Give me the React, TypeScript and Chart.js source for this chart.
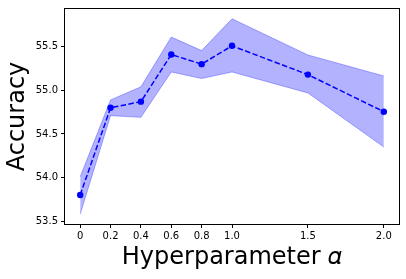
import React, { useEffect, useRef } from "react";
import { Chart, registerables } from "chart.js";

Chart.register(...registerables);

const alphas = [0, 0.2, 0.4, 0.6, 0.8, 1.0, 1.5, 2.0];
const accuracy = [53.8, 54.8, 54.87, 55.41, 55.3, 55.51, 55.18, 54.755];
const upperBand = [54.01, 54.89, 55.04, 55.61, 55.455, 55.82, 55.405, 55.165];
const lowerBand = [53.58, 54.71, 54.69, 55.21, 55.135, 55.21, 54.97, 54.35];
const xTicks = [0, 0.2, 0.4, 0.6, 0.8, 1.0, 1.5, 2.0];
const xTickLabels = ["0", "0.2", "0.4", "0.6", "0.8", "1.0", "1.5", "2.0"];
const yTicks = [53.5, 54.0, 54.5, 55.0, 55.5];
const yTickLabels = ["53.5", "54.0", "54.5", "55.0", "55.5"];

const FONT = "'DejaVu Sans', sans-serif";

const framePlugin = {
  id: "frame",
  afterDraw(chart: any) {
    const { ctx, chartArea } = chart;
    ctx.save();
    ctx.strokeStyle = "#000";
    ctx.lineWidth = 1;
    ctx.strokeRect(
      Math.round(chartArea.left) - 0.5,
      Math.round(chartArea.top) - 0.5,
      Math.round(chartArea.right - chartArea.left) + 1,
      Math.round(chartArea.bottom - chartArea.top) + 1
    );
    ctx.restore();
  },
};

export default function App() {
  const ref = useRef<HTMLCanvasElement | null>(null);
  useEffect(() => {
    if (!ref.current) return;
    const yMinD = Math.min(...lowerBand);
    const yMaxD = Math.max(...upperBand);
    const yPad = (yMaxD - yMinD) * 0.05;
    const xPad = (alphas[alphas.length - 1] - alphas[0]) * 0.05;
    const toPts = (arr: number[]) => arr.map((y, i) => ({ x: alphas[i], y }));
    const chart = new Chart(ref.current, {
      type: "line",
      data: {
        datasets: [
          {
            data: toPts(accuracy),
            borderColor: "#0000ff",
            backgroundColor: "#0000ff",
            borderWidth: 1.5,
            borderDash: [5.5, 2.4],
            pointRadius: 3.2,
            pointBorderWidth: 0,
            pointBackgroundColor: "#0000ff",
            fill: false,
            tension: 0,
            order: 0,
          },
          {
            data: toPts(upperBand),
            borderColor: "rgba(0,0,255,0.3)",
            backgroundColor: "rgba(0,0,255,0.3)",
            borderWidth: 1,
            pointRadius: 0,
            fill: "+1",
            tension: 0,
            order: 1,
          },
          {
            data: toPts(lowerBand),
            borderColor: "rgba(0,0,255,0.3)",
            backgroundColor: "rgba(0,0,255,0.3)",
            borderWidth: 1,
            pointRadius: 0,
            fill: false,
            tension: 0,
            order: 2,
          },
        ],
      },
      options: {
        animation: false,
        responsive: false,
        devicePixelRatio: 1,
        layout: { padding: { top: 6, right: 7, left: 0, bottom: 0 } },
        plugins: {
          legend: { display: false },
          tooltip: { enabled: false },
        },
        scales: {
          x: {
            type: "linear",
            min: alphas[0] - xPad,
            max: alphas[alphas.length - 1] + xPad,
            afterBuildTicks: (s: any) => {
              s.ticks = xTicks.map((v) => ({ value: v }));
            },
            afterFit: (s: any) => {
              s.height = 55;
            },
            ticks: {
              autoSkip: false,
              maxRotation: 0,
              padding: 2,
              color: "#000",
              font: { family: FONT, size: 10 },
              callback: (_v: any, i: number) => xTickLabels[i],
            },
            grid: {
              drawOnChartArea: false,
              drawTicks: true,
              tickLength: 4,
              color: "#000",
            },
            border: { display: false },
            title: {
              display: true,
              text: "Hyperparameter \u{1D6FC}",
              color: "#000",
              font: { family: FONT, size: 24 },
              padding: { top: 0, bottom: 7 },
            },
          },
          y: {
            type: "linear",
            min: yMinD - yPad,
            max: yMaxD + yPad,
            afterBuildTicks: (s: any) => {
              s.ticks = yTicks.map((v) => ({ value: v }));
            },
            afterFit: (s: any) => {
              s.width = 65;
            },
            ticks: {
              autoSkip: false,
              padding: 3,
              color: "#000",
              font: { family: FONT, size: 10 },
              callback: (_v: any, i: number) => yTickLabels[i],
            },
            grid: {
              drawOnChartArea: false,
              drawTicks: true,
              tickLength: 4,
              color: "#000",
            },
            border: { display: false },
            title: {
              display: true,
              text: "Accuracy",
              color: "#000",
              font: { family: FONT, size: 24 },
              padding: { top: 3, bottom: 0 },
            },
          },
        },
      },
      plugins: [framePlugin],
    });
    return () => chart.destroy();
  }, []);
  return (
    <div style={{ position: "fixed", left: 0, top: 0, width: 406, height: 279, background: "#fff" }}>
      <canvas ref={ref} width={406} height={279} />
    </div>
  );
}
